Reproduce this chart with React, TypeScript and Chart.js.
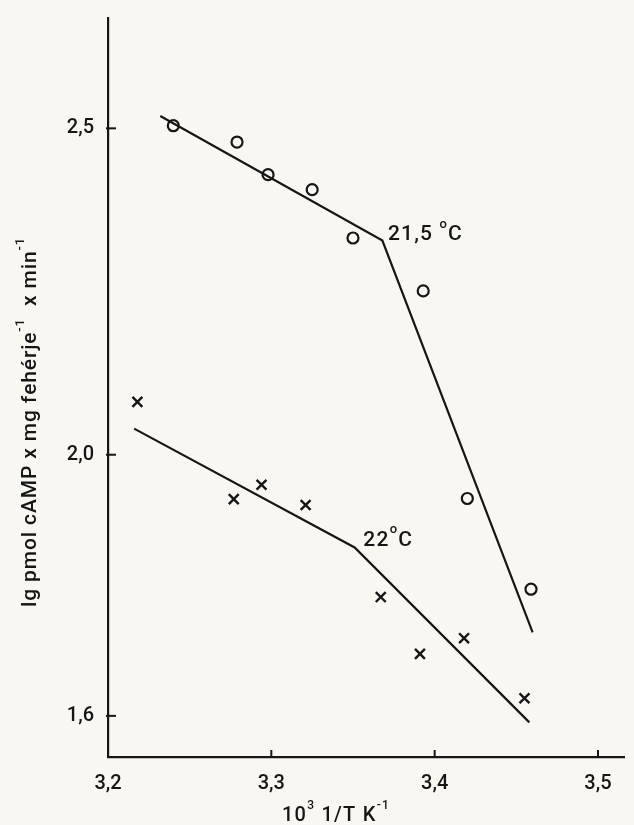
import React, { useEffect, useRef } from "react";
import { Chart, registerables } from "chart.js";

Chart.register(...registerables);

// ---- data ----
const circleX = [3.240, 3.279, 3.298, 3.325, 3.350, 3.393, 3.420, 3.459];
const circleY = [2.504, 2.479, 2.429, 2.406, 2.332, 2.251, 1.933, 1.794];

const crossX = [3.218, 3.277, 3.294, 3.321, 3.367, 3.391, 3.418, 3.455];
const crossY = [2.081, 1.932, 1.954, 1.923, 1.782, 1.695, 1.719, 1.627];

const upperLineX = [3.232, 3.368, 3.460];
const upperLineY = [2.519, 2.328, 1.728];

const lowerLineX = [3.216, 3.351, 3.458];
const lowerLineY = [2.040, 1.858, 1.590];

const xTickValues = [3.2, 3.3, 3.4, 3.5];
const xTickLabels = ["3,2", "3,3", "3,4", "3,5"];
const yTickValues = [1.6, 2.0, 2.5];
const yTickLabels = ["1,6", "2,0", "2,5"];

const breakLabelMain = ["21,5 ", "22"];
const breakLabelX = [3.3714, 3.3563];
const breakLabelY = [2.340, 1.872];

const X_MIN = 3.2;
const X_MAX = 3.5163;
const Y_MIN = 1.537;
const Y_MAX = 2.669;

const INK = "#161616";
const FONT = "Roboto, 'Liberation Sans', sans-serif";

type Run = { t: string; sup?: boolean };

function drawRuns(
  ctx: CanvasRenderingContext2D,
  runs: Run[],
  size: number,
  cx: number,
  cy: number,
  rot: number,
  targetWidth: number
) {
  ctx.save();
  ctx.translate(cx, cy);
  ctx.rotate(rot);
  const supSize = Math.round(size * 0.62);
  let total = 0;
  let chars = 0;
  const widths: number[] = [];
  for (const r of runs) {
    ctx.font = `500 ${r.sup ? supSize : size}px ${FONT}`;
    const w = ctx.measureText(r.t).width;
    widths.push(w);
    total += w;
    chars += r.t.length;
  }
  const extra = targetWidth > total ? (targetWidth - total) / chars : 0;
  let x = -(total + extra * chars) / 2;
  ctx.textBaseline = "alphabetic";
  ctx.textAlign = "left";
  ctx.fillStyle = INK;
  runs.forEach((r, i) => {
    ctx.font = `500 ${r.sup ? supSize : size}px ${FONT}`;
    const yy = r.sup ? size * 0.35 - size * 0.58 : size * 0.35;
    let cxx = x;
    for (const ch of r.t) {
      ctx.fillText(ch, cxx, yy);
      cxx += ctx.measureText(ch).width + extra;
    }
    x += widths[i] + extra * r.t.length;
  });
  ctx.restore();
}

const decorPlugin = {
  id: "decor",
  beforeDraw(chart: any) {
    const ctx = chart.ctx as CanvasRenderingContext2D;
    ctx.save();
    ctx.fillStyle = "#f8f7f2";
    ctx.fillRect(0, 0, chart.width, chart.height);
    ctx.restore();
  },
  afterDraw(chart: any) {
    const ctx = chart.ctx as CanvasRenderingContext2D;
    const xs = chart.scales.x;
    const ys = chart.scales.y;
    const area = chart.chartArea;
    ctx.save();
    ctx.strokeStyle = INK;
    ctx.lineWidth = 2;
    // inward tick marks
    yTickValues.forEach((v) => {
      const py = ys.getPixelForValue(v);
      ctx.beginPath();
      ctx.moveTo(area.left - 2, py);
      ctx.lineTo(area.left + 8, py);
      ctx.stroke();
    });
    xTickValues.forEach((v) => {
      const px = xs.getPixelForValue(v);
      ctx.beginPath();
      ctx.moveTo(px, area.bottom);
      ctx.lineTo(px, area.bottom - 7);
      ctx.stroke();
    });
    ctx.restore();
    // break labels
    breakLabelMain.forEach((t, i) => {
      const px = xs.getPixelForValue(breakLabelX[i]);
      const py = ys.getPixelForValue(breakLabelY[i]);
      const runs: Run[] = [{ t }, { t: "o", sup: true }, { t: "C" }];
      const target = i === 0 ? 75 : 50;
      drawRuns(ctx, runs, 21, px + target / 2, py, 0, target);
    });
    // axis titles
    drawRuns(
      ctx,
      [
        { t: "lg pmol cAMP x mg fehérje" },
        { t: "-1", sup: true },
        { t: "  x min" },
        { t: "-1", sup: true },
      ],
      21,
      29,
      422,
      -Math.PI / 2,
      370
    );
    drawRuns(
      ctx,
      [{ t: "10" }, { t: "3", sup: true }, { t: " 1/T K" }, { t: "-1", sup: true }],
      20,
      336,
      814,
      0,
      108
    );
  },
};

export default function App() {
  const ref = useRef<HTMLCanvasElement | null>(null);
  useEffect(() => {
    if (!ref.current) return;
    const toPts = (xs: number[], ys: number[]) => xs.map((x, i) => ({ x, y: ys[i] }));
    const chart = new Chart(ref.current, {
      type: "scatter",
      data: {
        datasets: [
          {
            label: "upper line",
            data: toPts(upperLineX, upperLineY),
            showLine: true,
            borderColor: INK,
            borderWidth: 2.2,
            pointRadius: 0,
            tension: 0,
          },
          {
            label: "lower line",
            data: toPts(lowerLineX, lowerLineY),
            showLine: true,
            borderColor: INK,
            borderWidth: 2.2,
            pointRadius: 0,
            tension: 0,
          },
          {
            label: "circles",
            data: toPts(circleX, circleY),
            pointStyle: "circle",
            pointRadius: 5.5,
            borderWidth: 2.2,
            borderColor: INK,
            backgroundColor: "rgba(0,0,0,0)",
          },
          {
            label: "crosses",
            data: toPts(crossX, crossY),
            pointStyle: "crossRot",
            pointRadius: 7,
            borderWidth: 2.4,
            borderColor: INK,
            backgroundColor: INK,
          },
        ],
      },
      options: {
        animation: false,
        responsive: false,
        devicePixelRatio: 1,
        layout: { padding: { top: 14, right: 0, left: 0, bottom: 0 } },
        plugins: { legend: { display: false }, tooltip: { enabled: false } },
        scales: {
          x: {
            type: "linear",
            min: X_MIN,
            max: X_MAX,
            grid: { display: false },
            border: { display: true, color: INK, width: 2.2 },
            afterBuildTicks: (s: any) => {
              s.ticks = xTickValues.map((v) => ({ value: v }));
            },
            afterFit: (s: any) => {
              s.height = 68;
            },
            ticks: {
              padding: 7,
              color: INK,
              font: { family: FONT, size: 20, weight: "500" },
              callback: (_v: any, i: number) => xTickLabels[i],
              maxRotation: 0,
            },
          },
          y: {
            type: "linear",
            min: Y_MIN,
            max: Y_MAX,
            grid: { display: false },
            border: { display: true, color: INK, width: 2.2 },
            afterBuildTicks: (s: any) => {
              s.ticks = yTickValues.map((v) => ({ value: v }));
            },
            afterFit: (s: any) => {
              s.width = 108;
            },
            ticks: {
              padding: 6,
              color: INK,
              font: { family: FONT, size: 20, weight: "500" },
              callback: (_v: any, i: number) => yTickLabels[i],
            },
          },
        },
      },
      plugins: [decorPlugin],
    });
    return () => chart.destroy();
  }, []);
  return (
    <div style={{ position: "absolute", left: 0, top: 0, width: 634, height: 825 }}>
      <canvas ref={ref} width={634} height={825} style={{ display: "block" }} />
    </div>
  );
}
